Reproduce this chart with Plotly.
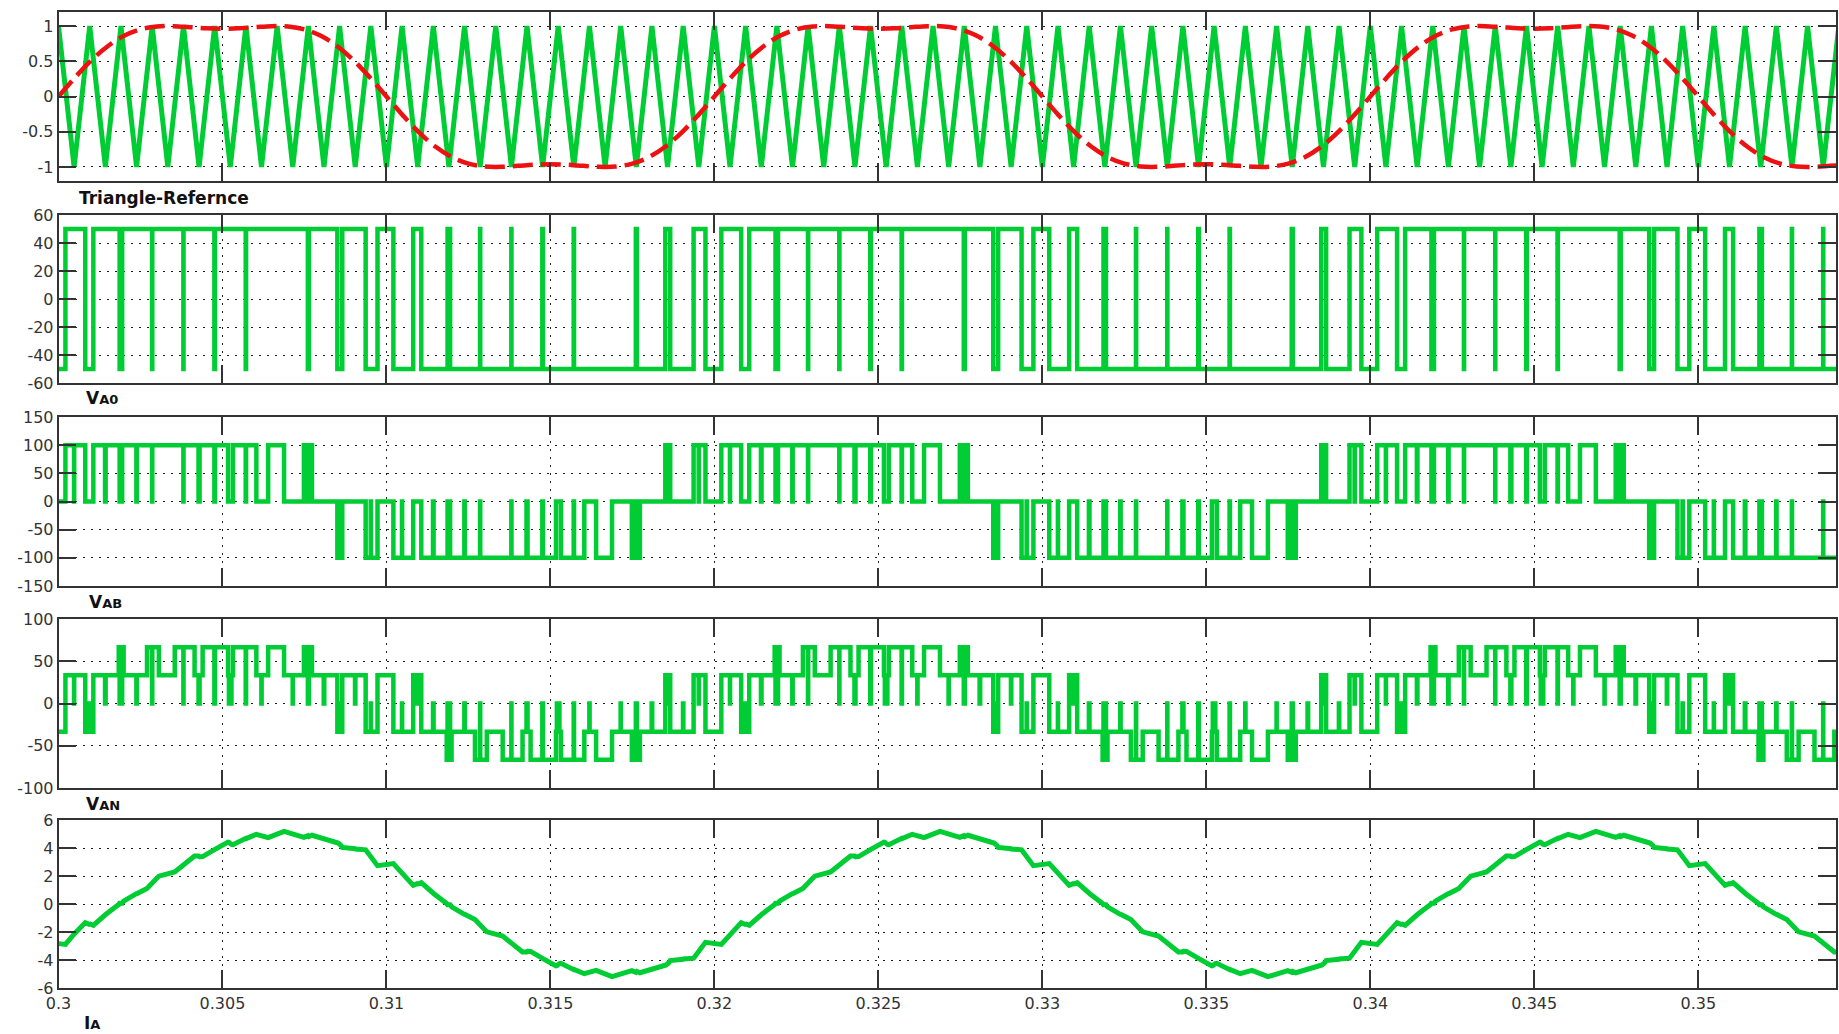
import numpy as np
import plotly.graph_objects as go

# ---------------- data (times in microseconds after t = 0.3 s) ----------------
T0 = 0.3
T_END_US = 54200

tri_us = [0, 476, 952, 1429, 1905, 2381, 2857, 3333, 3810, 4286, 4762, 5238, 5714, 6190, 6667, 7143, 7619, 8095, 8571, 9048, 9524,
          10000, 10476, 10952, 11429, 11905, 12381, 12857, 13333, 13810, 14286, 14762, 15238, 15714, 16190, 16667, 17143, 17619, 18095, 18571, 19048, 19524,
          20000, 20476, 20952, 21429, 21905, 22381, 22857, 23333, 23810, 24286, 24762, 25238, 25714, 26190, 26667, 27143, 27619, 28095, 28571, 29048, 29524,
          30000, 30476, 30952, 31429, 31905, 32381, 32857, 33333, 33810, 34286, 34762, 35238, 35714, 36190, 36667, 37143, 37619, 38095, 38571, 39048, 39524,
          40000, 40476, 40952, 41429, 41905, 42381, 42857, 43333, 43810, 44286, 44762, 45238, 45714, 46190, 46667, 47143, 47619, 48095, 48571, 49048, 49524,
          50000, 50476, 50952, 51429, 51905, 52381, 52857, 53333, 53810, 54286]
tri_v = [1, -1, 1, -1, 1, -1, 1, -1, 1, -1, 1, -1, 1, -1, 1, -1, 1, -1, 1, -1, 1,
         -1, 1, -1, 1, -1, 1, -1, 1, -1, 1, -1, 1, -1, 1, -1, 1, -1, 1, -1, 1, -1,
         1, -1, 1, -1, 1, -1, 1, -1, 1, -1, 1, -1, 1, -1, 1, -1, 1, -1, 1, -1, 1,
         -1, 1, -1, 1, -1, 1, -1, 1, -1, 1, -1, 1, -1, 1, -1, 1, -1, 1, -1, 1, -1,
         1, -1, 1, -1, 1, -1, 1, -1, 1, -1, 1, -1, 1, -1, 1, -1, 1, -1, 1, -1, 1,
         -1, 1, -1, 1, -1, 1, -1, 1, -1, 1]

ref_us = [0, 500, 1000, 1500, 2000, 2500, 3000, 3500, 4000, 4500, 5000, 5500, 6000, 6500, 7000, 7500, 8000, 8500, 9000, 9500,
          10000, 10500, 11000, 11500, 12000, 12500, 13000, 13500, 14000, 14500, 15000, 15500, 16000, 16500, 17000, 17500, 18000, 18500, 19000, 19500,
          20000, 20500, 21000, 21500, 22000, 22500, 23000, 23500, 24000, 24500, 25000, 25500, 26000, 26500, 27000, 27500, 28000, 28500, 29000, 29500,
          30000, 30500, 31000, 31500, 32000, 32500, 33000, 33500, 34000, 34500, 35000, 35500, 36000, 36500, 37000, 37500, 38000, 38500, 39000, 39500,
          40000, 40500, 41000, 41500, 42000, 42500, 43000, 43500, 44000, 44500, 45000, 45500, 46000, 46500, 47000, 47500, 48000, 48500, 49000, 49500,
          50000, 50500, 51000, 51500, 52000, 52500, 53000, 53500, 54000, 54500]
ref_v = [0.0, 0.268, 0.513, 0.714, 0.862, 0.953, 0.994, 0.999, 0.985, 0.969, 0.962, 0.969, 0.985, 0.999, 0.994, 0.953, 0.862, 0.714, 0.513, 0.268,
         0.0, -0.268, -0.513, -0.714, -0.862, -0.953, -0.994, -0.999, -0.985, -0.969, -0.962, -0.969, -0.985, -0.999, -0.994, -0.953, -0.862, -0.714, -0.513, -0.268,
         0.0, 0.268, 0.513, 0.714, 0.862, 0.953, 0.994, 0.999, 0.985, 0.969, 0.962, 0.969, 0.985, 0.999, 0.994, 0.953, 0.862, 0.714, 0.513, 0.268,
         0.0, -0.268, -0.513, -0.714, -0.862, -0.953, -0.994, -0.999, -0.985, -0.969, -0.962, -0.969, -0.985, -0.999, -0.994, -0.953, -0.862, -0.714, -0.513, -0.268,
         0.0, 0.268, 0.513, 0.714, 0.862, 0.953, 0.994, 0.999, 0.985, 0.969, 0.962, 0.969, 0.985, 0.999, 0.994, 0.953, 0.862, 0.714, 0.513, 0.268,
         0.0, -0.268, -0.513, -0.714, -0.862, -0.953, -0.994, -0.999, -0.985, -0.969]

va0_us = [0,
          211, 816, 1062, 1864, 1941, 2854, 2860, 3808, 3812, 4753, 4771, 5709, 5720, 7604, 7635, 8503, 8653, 9366, 9727,
          10211, 10816, 11062, 11864, 11941, 12854, 12860, 13808, 13812, 14753, 14771, 15709, 15720, 17604, 17635, 18503, 18653, 19366, 19727,
          20211, 20816, 21062, 21864, 21941, 22854, 22860, 23808, 23812, 24753, 24771, 25709, 25720, 27604, 27635, 28503, 28653, 29366, 29727,
          30211, 30816, 31062, 31864, 31941, 32854, 32860, 33808, 33812, 34753, 34771, 35709, 35720, 37604, 37635, 38503, 38653, 39366, 39727,
          40211, 40816, 41062, 41864, 41941, 42854, 42860, 43808, 43812, 44753, 44771, 45709, 45720, 47604, 47635, 48503, 48653, 49366, 49727,
          50211, 50816, 51062, 51864, 51941, 52854, 52860, 53808, 53812,
          54200]
va0_v = [-50, 50, -50, 50, -50, 50, -50, 50, -50, 50,
         -50, 50, -50, 50, -50, 50, -50, 50, -50, 50,
         -50, 50, -50, 50, -50, 50, -50, 50, -50, 50,
         -50, 50, -50, 50, -50, 50, -50, 50, -50, 50,
         -50, 50, -50, 50, -50, 50, -50, 50, -50, 50,
         -50, 50, -50, 50, -50, 50, -50, 50, -50, 50,
         -50, 50, -50, 50, -50, 50, -50, 50, -50, 50,
         -50, 50, -50, 50, -50, 50, -50, 50, -50, 50,
         -50, 50, -50, 50, -50, 50, -50, 50, -50, 50,
         -50, 50, -50, 50, -50, 50, -50, 50, -50, 50,
         -50, 50, -50, 50,
         -50, -50]

vab_us = [0,
          211, 474, 478, 816, 1062, 1420, 1437, 1864, 1941, 2375, 2387, 2854, 2860, 3808, 3812, 4271, 4302, 4753, 4771, 5170, 5320, 5709, 5720, 6033, 6393, 6878, 7483, 7604, 7635, 7729, 8503, 8530, 8608, 8653, 9366, 9521, 9527, 9727,
          10211, 10474, 10478, 10816, 11062, 11420, 11437, 11864, 11941, 12375, 12387, 12854, 12860, 13808, 13812, 14271, 14302, 14753, 14771, 15170, 15320, 15709, 15720, 16033, 16393, 16878, 17483, 17604, 17635, 17729, 18503, 18530, 18608, 18653, 19366, 19521, 19527, 19727,
          20211, 20474, 20478, 20816, 21062, 21420, 21437, 21864, 21941, 22375, 22387, 22854, 22860, 23808, 23812, 24271, 24302, 24753, 24771, 25170, 25320, 25709, 25720, 26033, 26393, 26878, 27483, 27604, 27635, 27729, 28503, 28530, 28608, 28653, 29366, 29521, 29527, 29727,
          30211, 30474, 30478, 30816, 31062, 31420, 31437, 31864, 31941, 32375, 32387, 32854, 32860, 33808, 33812, 34271, 34302, 34753, 34771, 35170, 35320, 35709, 35720, 36033, 36393, 36878, 37483, 37604, 37635, 37729, 38503, 38530, 38608, 38653, 39366, 39521, 39527, 39727,
          40211, 40474, 40478, 40816, 41062, 41420, 41437, 41864, 41941, 42375, 42387, 42854, 42860, 43808, 43812, 44271, 44302, 44753, 44771, 45170, 45320, 45709, 45720, 46033, 46393, 46878, 47483, 47604, 47635, 47729, 48503, 48530, 48608, 48653, 49366, 49521, 49527, 49727,
          50211, 50474, 50478, 50816, 51062, 51420, 51437, 51864, 51941, 52375, 52387, 52854, 52860, 53808, 53812,
          54200]
vab_v = [0,
         100, 0, 100, 0, 100, 0, 100, 0, 100, 0, 100, 0, 100, 0, 100, 0, 100, 0, 100, 0, 100, 0, 100, 0, 100, 0, 100, 0, 100, 0, -100, 0, -100, 0, -100, 0, -100, 0,
         -100, 0, -100, 0, -100, 0, -100, 0, -100, 0, -100, 0, -100, 0, -100, 0, -100, 0, -100, 0, -100, 0, -100, 0, -100, 0, -100, 0, -100, 0, 100, 0, 100, 0, 100, 0, 100, 0,
         100, 0, 100, 0, 100, 0, 100, 0, 100, 0, 100, 0, 100, 0, 100, 0, 100, 0, 100, 0, 100, 0, 100, 0, 100, 0, 100, 0, 100, 0, -100, 0, -100, 0, -100, 0, -100, 0,
         -100, 0, -100, 0, -100, 0, -100, 0, -100, 0, -100, 0, -100, 0, -100, 0, -100, 0, -100, 0, -100, 0, -100, 0, -100, 0, -100, 0, -100, 0, 100, 0, 100, 0, 100, 0, 100, 0,
         100, 0, 100, 0, 100, 0, 100, 0, 100, 0, 100, 0, 100, 0, 100, 0, 100, 0, 100, 0, 100, 0, 100, 0, 100, 0, 100, 0, 100, 0, -100, 0, -100, 0, -100, 0, -100, 0,
         -100, 0, -100, 0, -100, 0, -100, 0, -100, 0, -100, 0, -100, 0, -100,
         -100]

van_us = [0,
          211, 474, 478, 816, 938, 968, 1062, 1420, 1437, 1837, 1864, 1941, 1986, 2375, 2387, 2699, 2854, 2860, 3060, 3544, 3808, 3812, 4149, 4271, 4302, 4395, 4753, 4771, 5170, 5197, 5274, 5320, 5709, 5720, 6033, 6187, 6194, 6393, 6878, 7141, 7145, 7483, 7604, 7635, 7729, 8087, 8104, 8503, 8530, 8608, 8653, 9042, 9053, 9366, 9521, 9527, 9727,
          10211, 10474, 10478, 10816, 10938, 10968, 11062, 11420, 11437, 11837, 11864, 11941, 11986, 12375, 12387, 12699, 12854, 12860, 13060, 13544, 13808, 13812, 14149, 14271, 14302, 14395, 14753, 14771, 15170, 15197, 15274, 15320, 15709, 15720, 16033, 16187, 16194, 16393, 16878, 17141, 17145, 17483, 17604, 17635, 17729, 18087, 18104, 18503, 18530, 18608, 18653, 19042, 19053, 19366, 19521, 19527, 19727,
          20211, 20474, 20478, 20816, 20938, 20968, 21062, 21420, 21437, 21837, 21864, 21941, 21986, 22375, 22387, 22699, 22854, 22860, 23060, 23544, 23808, 23812, 24149, 24271, 24302, 24395, 24753, 24771, 25170, 25197, 25274, 25320, 25709, 25720, 26033, 26187, 26194, 26393, 26878, 27141, 27145, 27483, 27604, 27635, 27729, 28087, 28104, 28503, 28530, 28608, 28653, 29042, 29053, 29366, 29521, 29527, 29727,
          30211, 30474, 30478, 30816, 30938, 30968, 31062, 31420, 31437, 31837, 31864, 31941, 31986, 32375, 32387, 32699, 32854, 32860, 33060, 33544, 33808, 33812, 34149, 34271, 34302, 34395, 34753, 34771, 35170, 35197, 35274, 35320, 35709, 35720, 36033, 36187, 36194, 36393, 36878, 37141, 37145, 37483, 37604, 37635, 37729, 38087, 38104, 38503, 38530, 38608, 38653, 39042, 39053, 39366, 39521, 39527, 39727,
          40211, 40474, 40478, 40816, 40938, 40968, 41062, 41420, 41437, 41837, 41864, 41941, 41986, 42375, 42387, 42699, 42854, 42860, 43060, 43544, 43808, 43812, 44149, 44271, 44302, 44395, 44753, 44771, 45170, 45197, 45274, 45320, 45709, 45720, 46033, 46187, 46194, 46393, 46878, 47141, 47145, 47483, 47604, 47635, 47729, 48087, 48104, 48503, 48530, 48608, 48653, 49042, 49053, 49366, 49521, 49527, 49727,
          50211, 50474, 50478, 50816, 50938, 50968, 51062, 51420, 51437, 51837, 51864, 51941, 51986, 52375, 52387, 52699, 52854, 52860, 53060, 53544, 53808, 53812, 54149,
          54200]
van_v = [-33.3,
         33.3, 0.0, 33.3, -33.3, 0.0, -33.3, 33.3, 0.0, 33.3, 66.7, 0.0, 66.7, 33.3, 0.0, 33.3, 66.7, 0.0, 66.7, 33.3, 66.7, 0.0, 66.7, 33.3, 0.0, 33.3, 66.7, 0.0, 66.7, 33.3, 0.0, 33.3, 66.7, 0.0, 66.7, 33.3, 0.0, 33.3, 66.7, 33.3, 0.0, 33.3, 66.7, 0.0, 66.7, 33.3, 0.0, 33.3, -33.3, 0.0, -33.3, 33.3, 0.0, 33.3, -33.3, 0.0, -33.3, 33.3,
         -33.3, 0.0, -33.3, 33.3, 0.0, 33.3, -33.3, 0.0, -33.3, -66.7, 0.0, -66.7, -33.3, 0.0, -33.3, -66.7, 0.0, -66.7, -33.3, -66.7, 0.0, -66.7, -33.3, 0.0, -33.3, -66.7, 0.0, -66.7, -33.3, 0.0, -33.3, -66.7, 0.0, -66.7, -33.3, 0.0, -33.3, -66.7, -33.3, 0.0, -33.3, -66.7, 0.0, -66.7, -33.3, 0.0, -33.3, 33.3, 0.0, 33.3, -33.3, 0.0, -33.3, 33.3, 0.0, 33.3, -33.3,
         33.3, 0.0, 33.3, -33.3, 0.0, -33.3, 33.3, 0.0, 33.3, 66.7, 0.0, 66.7, 33.3, 0.0, 33.3, 66.7, 0.0, 66.7, 33.3, 66.7, 0.0, 66.7, 33.3, 0.0, 33.3, 66.7, 0.0, 66.7, 33.3, 0.0, 33.3, 66.7, 0.0, 66.7, 33.3, 0.0, 33.3, 66.7, 33.3, 0.0, 33.3, 66.7, 0.0, 66.7, 33.3, 0.0, 33.3, -33.3, 0.0, -33.3, 33.3, 0.0, 33.3, -33.3, 0.0, -33.3, 33.3,
         -33.3, 0.0, -33.3, 33.3, 0.0, 33.3, -33.3, 0.0, -33.3, -66.7, 0.0, -66.7, -33.3, 0.0, -33.3, -66.7, 0.0, -66.7, -33.3, -66.7, 0.0, -66.7, -33.3, 0.0, -33.3, -66.7, 0.0, -66.7, -33.3, 0.0, -33.3, -66.7, 0.0, -66.7, -33.3, 0.0, -33.3, -66.7, -33.3, 0.0, -33.3, -66.7, 0.0, -66.7, -33.3, 0.0, -33.3, 33.3, 0.0, 33.3, -33.3, 0.0, -33.3, 33.3, 0.0, 33.3, -33.3,
         33.3, 0.0, 33.3, -33.3, 0.0, -33.3, 33.3, 0.0, 33.3, 66.7, 0.0, 66.7, 33.3, 0.0, 33.3, 66.7, 0.0, 66.7, 33.3, 66.7, 0.0, 66.7, 33.3, 0.0, 33.3, 66.7, 0.0, 66.7, 33.3, 0.0, 33.3, 66.7, 0.0, 66.7, 33.3, 0.0, 33.3, 66.7, 33.3, 0.0, 33.3, 66.7, 0.0, 66.7, 33.3, 0.0, 33.3, -33.3, 0.0, -33.3, 33.3, 0.0, 33.3, -33.3, 0.0, -33.3, 33.3,
         -33.3, 0.0, -33.3, 33.3, 0.0, 33.3, -33.3, 0.0, -33.3, -66.7, 0.0, -66.7, -33.3, 0.0, -33.3, -66.7, 0.0, -66.7, -33.3, -66.7, 0.0, -66.7, -33.3,
         -33.3]

ia_v = [-2.83,
        -2.89, -2.16, -2.15, -1.33, -1.45, -1.43, -1.52, -0.75, -0.75, -0.03, 0.06, 0.06, 0.2, 0.74, 0.74, 1.11, 1.51, 1.51, 1.99, 2.29, 2.83, 2.83, 3.43, 3.43, 3.38, 3.39, 3.94, 3.9, 4.42, 4.41, 4.26, 4.24, 4.69, 4.67, 4.98, 4.87, 4.86, 4.74, 5.19, 4.99, 4.98, 4.76, 4.88, 4.82, 4.91, 4.69, 4.65, 4.45, 4.35, 4.2, 4.04, 3.95, 3.93, 3.87, 3.36, 3.35, 2.74,
        2.89, 2.16, 2.15, 1.33, 1.45, 1.43, 1.52, 0.75, 0.75, 0.03, -0.06, -0.06, -0.2, -0.74, -0.74, -1.11, -1.51, -1.51, -1.99, -2.29, -2.83, -2.83, -3.43, -3.43, -3.38, -3.39, -3.94, -3.9, -4.42, -4.41, -4.26, -4.24, -4.69, -4.67, -4.98, -4.87, -4.86, -4.74, -5.19, -4.99, -4.98, -4.76, -4.88, -4.82, -4.91, -4.69, -4.65, -4.45, -4.35, -4.2, -4.04, -3.95, -3.93, -3.87, -3.36, -3.35, -2.74,
        -2.89, -2.16, -2.15, -1.33, -1.45, -1.43, -1.52, -0.75, -0.75, -0.03, 0.06, 0.06, 0.2, 0.74, 0.74, 1.11, 1.51, 1.51, 1.99, 2.29, 2.83, 2.83, 3.43, 3.43, 3.38, 3.39, 3.94, 3.9, 4.42, 4.41, 4.26, 4.24, 4.69, 4.67, 4.98, 4.87, 4.86, 4.74, 5.19, 4.99, 4.98, 4.76, 4.88, 4.82, 4.91, 4.69, 4.65, 4.45, 4.35, 4.2, 4.04, 3.95, 3.93, 3.87, 3.36, 3.35, 2.74,
        2.89, 2.16, 2.15, 1.33, 1.45, 1.43, 1.52, 0.75, 0.75, 0.03, -0.06, -0.06, -0.2, -0.74, -0.74, -1.11, -1.51, -1.51, -1.99, -2.29, -2.83, -2.83, -3.43, -3.43, -3.38, -3.39, -3.94, -3.9, -4.42, -4.41, -4.26, -4.24, -4.69, -4.67, -4.98, -4.87, -4.86, -4.74, -5.19, -4.99, -4.98, -4.76, -4.88, -4.82, -4.91, -4.69, -4.65, -4.45, -4.35, -4.2, -4.04, -3.95, -3.93, -3.87, -3.36, -3.35, -2.74,
        -2.89, -2.16, -2.15, -1.33, -1.45, -1.43, -1.52, -0.75, -0.75, -0.03, 0.06, 0.06, 0.2, 0.74, 0.74, 1.11, 1.51, 1.51, 1.99, 2.29, 2.83, 2.83, 3.43, 3.43, 3.38, 3.39, 3.94, 3.9, 4.42, 4.41, 4.26, 4.24, 4.69, 4.67, 4.98, 4.87, 4.86, 4.74, 5.19, 4.99, 4.98, 4.76, 4.88, 4.82, 4.91, 4.69, 4.65, 4.45, 4.35, 4.2, 4.04, 3.95, 3.93, 3.87, 3.36, 3.35, 2.74,
        2.89, 2.16, 2.15, 1.33, 1.45, 1.43, 1.52, 0.75, 0.75, 0.03, -0.06, -0.06, -0.2, -0.74, -0.74, -1.11, -1.51, -1.51, -1.99, -2.29, -2.83, -2.83, -3.43,
        -3.43]

x_tick_vals = [0.3, 0.305, 0.31, 0.315, 0.32, 0.325, 0.33, 0.335, 0.34, 0.345, 0.35]
x_tick_text = ['0.3', '0.305', '0.31', '0.315', '0.32', '0.325', '0.33', '0.335', '0.34', '0.345', '0.35']

panel_y_ranges = [[-1.2, 1.2], [-60, 60], [-150, 150], [-100, 100], [-6, 6]]
panel_y_ticks = [[-1, -0.5, 0, 0.5, 1], [-60, -40, -20, 0, 20, 40, 60], [-150, -100, -50, 0, 50, 100, 150],
                 [-100, -50, 0, 50, 100], [-6, -4, -2, 0, 2, 4, 6]]
panel_y_ticktext = [['-1', '-0.5', '0', '0.5', '1'], ['-60', '-40', '-20', '0', '20', '40', '60'],
                    ['-150', '-100', '-50', '0', '50', '100', '150'], ['-100', '-50', '0', '50', '100'],
                    ['-6', '-4', '-2', '0', '2', '4', '6']]
panel_labels = ['<b>Triangle-Refernce</b>',
                '<b>V<span style="font-size:13px">A0</span></b>',
                '<b>V<span style="font-size:13px">AB</span></b>',
                '<b>V<span style="font-size:13px">AN</span></b>',
                '<b>I<span style="font-size:13px">A</span></b>']

assert len(tri_us) == len(tri_v)
assert len(ref_us) == len(ref_v)
assert len(va0_us) == len(va0_v)
assert len(vab_us) == len(vab_v)
assert len(van_us) == len(van_v) == len(ia_v)


def sec(u):
    return T0 + np.asarray(u, dtype=float) * 1e-6


# ---------------- figure ----------------
W, H = 1839, 1034
green = '#00CC33'
red = '#EE1111'
x_dom = [58.5 / W, 1836 / W]
rows_px = [(12, 181), (215, 383), (417, 586), (619, 788), (820, 988)]
label_px = [(77, 198), (84, 398), (87, 602), (84, 804), (82, 1023)]

fig = go.Figure()
fig.add_trace(go.Scatter(x=sec(tri_us), y=tri_v, mode='lines', line=dict(color=green, width=5),
                         xaxis='x', yaxis='y', hoverinfo='skip'))
fig.add_trace(go.Scatter(x=sec(ref_us), y=ref_v, mode='lines',
                         line=dict(color=red, width=4.5, dash='20px,8px', shape='spline'),
                         xaxis='x', yaxis='y', hoverinfo='skip'))
fig.add_trace(go.Scatter(x=sec(va0_us), y=va0_v, mode='lines', line=dict(color=green, width=4.5, shape='hv'),
                         xaxis='x2', yaxis='y2', hoverinfo='skip'))
fig.add_trace(go.Scatter(x=sec(vab_us), y=vab_v, mode='lines', line=dict(color=green, width=4.5, shape='hv'),
                         xaxis='x3', yaxis='y3', hoverinfo='skip'))
fig.add_trace(go.Scatter(x=sec(van_us), y=van_v, mode='lines', line=dict(color=green, width=4.5, shape='hv'),
                         xaxis='x4', yaxis='y4', hoverinfo='skip'))
fig.add_trace(go.Scatter(x=sec(van_us), y=ia_v, mode='lines', line=dict(color=green, width=5),
                         xaxis='x5', yaxis='y5', hoverinfo='skip'))

tickfont = dict(family='DejaVu Sans, Liberation Sans, sans-serif', size=16, color='#333333')
lay = dict(width=W, height=H, margin=dict(l=0, r=0, t=0, b=0, autoexpand=False), paper_bgcolor='white',
           plot_bgcolor='white', showlegend=False)
for k in range(5):
    sfx = '' if k == 0 else str(k + 1)
    top, bot = rows_px[k]
    lay['xaxis' + sfx] = dict(domain=x_dom, range=[T0, T0 + T_END_US * 1e-6], anchor='y' + sfx,
                              tickvals=x_tick_vals, ticktext=x_tick_text, showticklabels=(k == 4),
                              ticks='inside', ticklen=18, tickwidth=1.5, tickcolor='#333333',
                              showline=True, mirror='ticks', linecolor='#333333', linewidth=1.5,
                              showgrid=True, gridcolor='#222222', gridwidth=1.2, griddash='2px,6px',
                              zeroline=False, tickfont=tickfont, fixedrange=True, automargin=False)
    lay['yaxis' + sfx] = dict(domain=[1 - bot / H, 1 - top / H], range=panel_y_ranges[k], anchor='x' + sfx,
                              tickvals=panel_y_ticks[k], ticktext=panel_y_ticktext[k],
                              ticks='inside', ticklen=18, tickwidth=1.5, tickcolor='#333333',
                              showline=True, mirror='ticks', linecolor='#333333', linewidth=1.5,
                              showgrid=True, gridcolor='#222222', gridwidth=1.2, griddash='2px,6px',
                              zeroline=False, tickfont=tickfont, fixedrange=True, automargin=False)
fig.update_layout(**lay)

lab_font = dict(family='DejaVu Sans, Open Sans, sans-serif', size=17, color='#111111')
for txt, (px, py) in zip(panel_labels, label_px):
    fig.add_annotation(text=txt, xref='paper', yref='paper', x=px / W, y=1 - py / H,
                       xanchor='left', yanchor='middle', showarrow=False, font=lab_font)

fig.write_html('out.html', config={'displayModeBar': False})
